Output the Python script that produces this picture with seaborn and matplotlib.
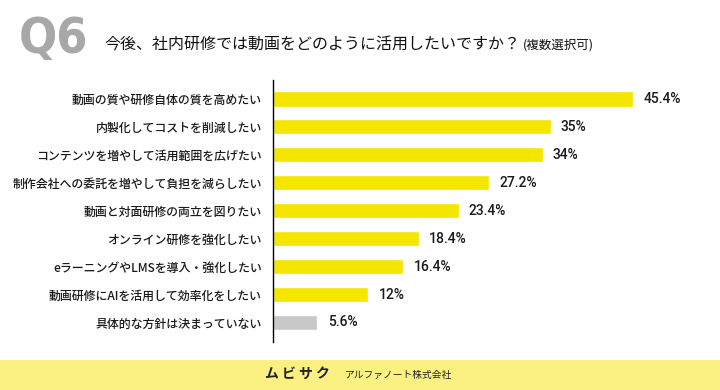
import matplotlib
matplotlib.use("Agg")
import matplotlib.pyplot as plt
import seaborn as sns
import pandas as pd
from matplotlib.patches import Rectangle

categories = [
    "動画の質や研修自体の質を高めたい",
    "内製化してコストを削減したい",
    "コンテンツを増やして活用範囲を広げたい",
    "制作会社への委託を増やして負担を減らしたい",
    "動画と対面研修の両立を図りたい",
    "オンライン研修を強化したい",
    "eラーニングやLMSを導入・強化したい",
    "動画研修にAIを活用して効率化をしたい",
    "具体的な方針は決まっていない",
]
values = [45.4, 35, 34, 27.2, 23.4, 18.4, 16.4, 12, 5.6]
value_labels = ["45.4%", "35%", "34%", "27.2%", "23.4%", "18.4%", "16.4%", "12%", "5.6%"]
groups = ["main"] * 8 + ["none"]

title = "今後、社内研修では動画をどのように活用したいですか？"
subtitle = "(複数選択可)"
footer_brand = "ム ビ サ ク"
footer_company = "アルファノート株式会社"

sns.set_theme(style="white")
plt.rcParams['font.family'] = ['Noto Sans CJK JP', 'DejaVu Sans']

df = pd.DataFrame({"cat": categories, "val": values, "grp": groups})

fig = plt.figure(figsize=(7.2, 3.9), dpi=100)
fig.patch.set_facecolor("white")

ax = fig.add_axes([273/720, 1-342/390, 1-273/720, 262/390])
ax.patch.set_alpha(0)
sns.barplot(data=df, x="val", y="cat", hue="grp",
            palette={"main": "#F5E600", "none": "#C8C8C8"}, saturation=1,
            dodge=False, width=0.54, legend=False, ax=ax, orient="h")
ax.set_xlim(0, (720-273)/7.93)
ax.set_ylim(8.7, -0.68)
ax.set_xlabel("")
ax.set_ylabel("")
ax.set_xticks([])
for s in ["top", "right", "bottom"]:
    ax.spines[s].set_visible(False)
ax.spines["left"].set_color("#000000")
ax.spines["left"].set_linewidth(1.0)
ax.tick_params(axis="y", length=0, pad=8, labelsize=8.6, labelcolor="#1A1A1A")
for t in ax.get_yticklabels():
    t.set_fontweight("medium")

for i, (v, lab) in enumerate(zip(values, value_labels)):
    ax.text(v + 1.3, i, lab, va="center", ha="left", fontsize=10,
            fontweight="medium", color="#1A1A1A", family=["Roboto", "DejaVu Sans"])

fig.text(19/720, 1-39/390, "Q6", fontsize=36, fontweight="bold", color="#A8A8A8",
         fontstretch="condensed", ha="left", va="center",
         family=["DejaVu Sans"])
fig.text(104/720, 1-45/390, title, fontsize=11.5, color="#111111", ha="left", va="center")
fig.text(523/720, 1-45/390, subtitle, fontsize=9, color="#111111", ha="left", va="center")

fig.patches.append(Rectangle((0, 0), 1, 30/390, transform=fig.transFigure,
                             facecolor="#FBF183", edgecolor="none", zorder=1))
fig.text(330/720, 15/390, footer_brand, fontsize=10, fontweight="bold",
         color="#222222", ha="right", va="center", zorder=2)
fig.text(345/720, 15/390, footer_company, fontsize=7, color="#222222",
         ha="left", va="center", zorder=2)

fig.savefig("out.png", dpi=100, facecolor="white")
